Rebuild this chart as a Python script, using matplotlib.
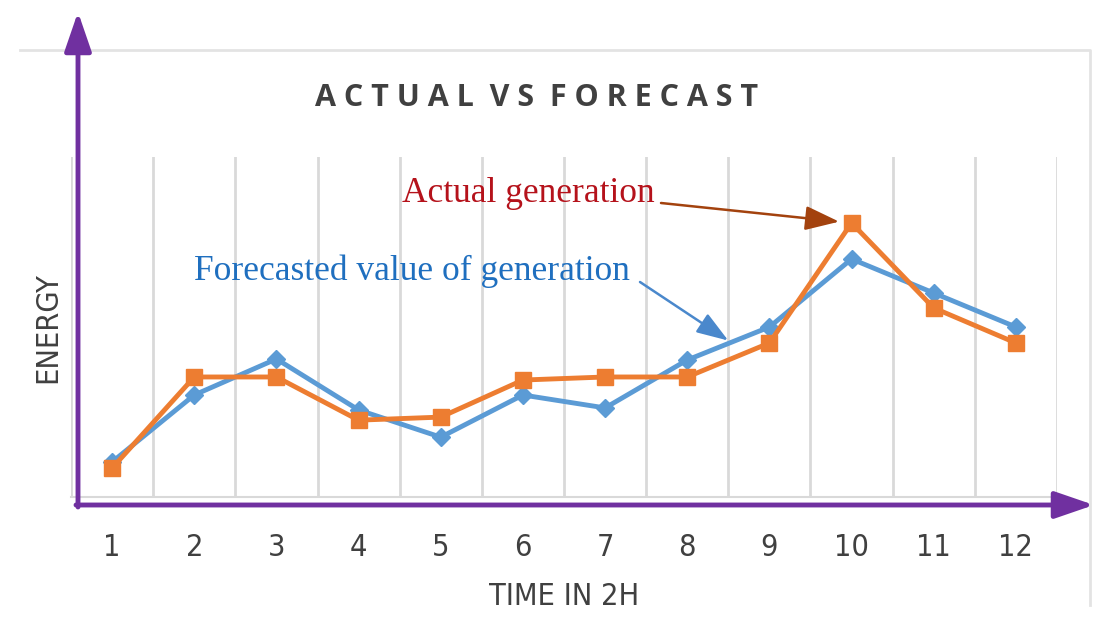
import matplotlib
matplotlib.use("Agg")
import matplotlib.pyplot as plt
import numpy as np

# data (energy, arbitrary units)
time_slots = [1, 2, 3, 4, 5, 6, 7, 8, 9, 10, 11, 12]
actual = [8.5, 35.3, 35.3, 22.6, 23.5, 34.4, 35.3, 35.3, 45.3, 80.6, 55.6, 45.3]
forecast = [10.3, 30.0, 40.6, 25.6, 17.6, 30.0, 26.2, 40.3, 50.0, 70.0, 60.0, 50.0]
tick_labels = [str(t) for t in time_slots]

W, H = 1104, 622
PURPLE = "#7030A0"
ORANGE = "#ED7D31"
BLUE = "#5B9BD5"
GRID = "#D9D9D9"
TXT = "#404040"

fig = plt.figure(figsize=(W / 100, H / 100), dpi=100)

# main plot area
ax = fig.add_axes([71 / W, 1 - 497 / H, (1057 - 71) / W, (497 - 157) / H])
ax.set_xlim(0.5, 12.5)
ax.set_ylim(0, 100)
for s in ax.spines.values():
    s.set_visible(False)
ax.spines["bottom"].set_visible(True)
ax.spines["bottom"].set_color(GRID)
ax.spines["bottom"].set_linewidth(1.5)
ax.set_xticks(time_slots)
ax.set_xticklabels(tick_labels, fontsize=22, color=TXT, fontstretch="condensed")
ax.set_xticks(np.arange(0.5, 13, 1), minor=True)
ax.set_yticks([])
ax.tick_params(axis="x", which="both", length=0, pad=26)
ax.grid(axis="x", which="minor", color=GRID, lw=2)
ax.set_axisbelow(True)

ax.plot(time_slots, forecast, color=BLUE, lw=3.5, marker="D", ms=9,
        markerfacecolor=BLUE, markeredgecolor=BLUE, zorder=3)
ax.plot(time_slots, actual, color=ORANGE, lw=3.5, marker="s", ms=12,
        markerfacecolor=ORANGE, markeredgecolor=ORANGE, zorder=4)

# axis labels
ax.set_xlabel("TIME IN 2H", fontsize=22, color=TXT, labelpad=14, fontstretch="condensed")
fig.text(48 / W, 1 - 328 / H, "ENERGY", rotation=90, ha="center", va="center",
         fontsize=22, color=TXT, fontstretch="condensed")

# title
fig.text(537 / W, 1 - 98 / H, "A C T U A L  V S  F O R E C A S T",
         ha="center", va="center", fontsize=22, fontweight="bold", color=TXT,
         family="Open Sans")

# overlay in pixel coords for the frame and the purple axis arrows
bg = fig.add_axes([0, 0, 1, 1])
bg.set_xlim(0, W)
bg.set_ylim(H, 0)
bg.axis("off")
bg.patch.set_visible(False)
bg.set_zorder(5)
bg.plot([20, 1090, 1090], [50, 50, 605], color="#E3E3E3", lw=2)
bg.annotate("", xy=(78, 12), xytext=(78, 507),
            arrowprops=dict(arrowstyle="-|>,head_length=1.6,head_width=0.55",
                            color=PURPLE, lw=3.5, mutation_scale=15,
                            shrinkA=0, shrinkB=0))
bg.annotate("", xy=(1094, 505), xytext=(76, 505),
            arrowprops=dict(arrowstyle="-|>,head_length=1.6,head_width=0.55",
                            color=PURPLE, lw=3.5, mutation_scale=15,
                            shrinkA=0, shrinkB=0))

# callouts
fig.text(528 / W, 1 - 194 / H, "Actual generation", ha="center", va="center",
         family="Liberation Serif", fontsize=25.5, color="#B5121B")
fig.text(412 / W, 1 - 271 / H, "Forecasted value of generation", ha="center",
         va="center", family="Liberation Serif", fontsize=25.5, color="#1F6FBF")

ax.annotate("", xy=(time_slots[9], actual[9]), xycoords="data",
            xytext=(661, H - 203), textcoords="figure pixels",
            arrowprops=dict(arrowstyle="-|>,head_length=1.4,head_width=0.5",
                            color="#A3420E", lw=1.8, mutation_scale=15,
                            shrinkA=0, shrinkB=9))
ax.annotate("", xy=(8.5, 46), xycoords="data",
            xytext=(640, H - 282), textcoords="figure pixels",
            arrowprops=dict(arrowstyle="-|>,head_length=1.3,head_width=0.45",
                            color="#4A88CC", lw=1.8, mutation_scale=15,
                            shrinkA=0, shrinkB=0))

fig.savefig("out.png", dpi=100)
